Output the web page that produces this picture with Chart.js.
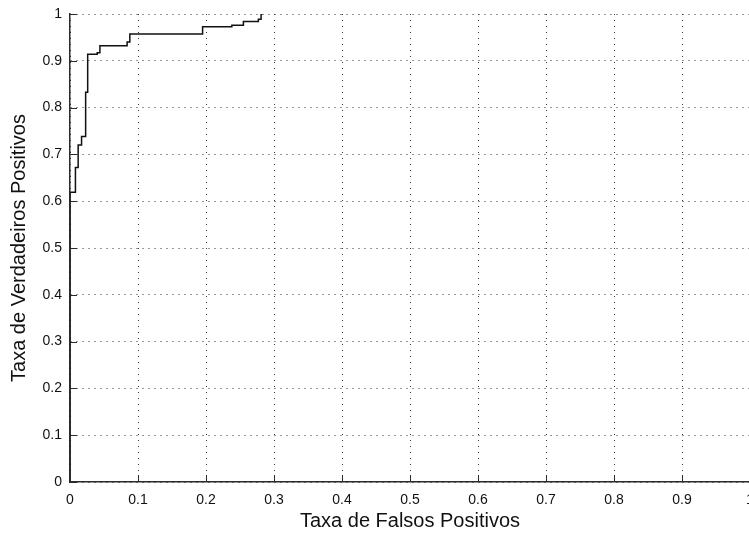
<!DOCTYPE html>
<html>
<head>
<meta charset="utf-8">
<script src="https://cdn.jsdelivr.net/npm/chart.js@4/dist/chart.umd.min.js"></script>
<style>
  html, body { margin: 0; padding: 0; background: #fff; overflow: hidden; }
  canvas { display: block; }
</style>
</head>
<body>
<canvas id="roc" width="764" height="536"></canvas>
<script>
// ROC curve corners (false positive rate, true positive rate)
const fprValues = [0, 0, 0.008, 0.008, 0.012, 0.012, 0.017, 0.017, 0.023, 0.023,
  0.026, 0.026, 0.040, 0.040, 0.044, 0.044, 0.084, 0.084, 0.088, 0.088,
  0.195, 0.195, 0.238, 0.238, 0.255, 0.255, 0.277, 0.277, 0.281, 0.281, 0.283];
const tprValues = [0, 0.619, 0.619, 0.672, 0.672, 0.720, 0.720, 0.738, 0.738, 0.833,
  0.833, 0.914, 0.914, 0.917, 0.917, 0.932, 0.932, 0.940, 0.940, 0.957,
  0.957, 0.973, 0.973, 0.976, 0.976, 0.984, 0.984, 0.989, 0.989, 1, 1];

const xTickValues = [0, 0.1, 0.2, 0.3, 0.4, 0.5, 0.6, 0.7, 0.8, 0.9, 1];
const yTickValues = [0, 0.1, 0.2, 0.3, 0.4, 0.5, 0.6, 0.7, 0.8, 0.9, 1];

const xTitle = 'Taxa de Falsos Positivos';
const yTitle = 'Taxa de Verdadeiros Positivos';

const axisColor = '#2a2a2a';
const gridColor = '#333';
const textColor = '#111';

// short tick marks pointing into the plot, like the old plotting tools do
const innerTicks = {
  id: 'innerTicks',
  afterDatasetsDraw(chart) {
    const { ctx, chartArea: a, scales: { x, y } } = chart;
    ctx.save();
    ctx.strokeStyle = axisColor;
    ctx.lineWidth = 1;
    ctx.beginPath();
    x.ticks.forEach(t => {
      const px = Math.round(x.getPixelForValue(t.value)) + 0.5;
      ctx.moveTo(px, a.bottom);
      ctx.lineTo(px, a.bottom - 7);
    });
    y.ticks.forEach(t => {
      const py = Math.round(y.getPixelForValue(t.value)) + 0.5;
      ctx.moveTo(a.left, py);
      ctx.lineTo(a.left + 7, py);
    });
    ctx.stroke();
    ctx.restore();
  }
};

const points = fprValues.map((v, i) => ({ x: v, y: tprValues[i] }));

new Chart(document.getElementById('roc'), {
  type: 'scatter',
  data: {
    datasets: [{
      data: points,
      showLine: true,
      borderColor: '#111',
      borderWidth: 1.5,
      pointRadius: 0,
      pointHoverRadius: 0,
      tension: 0
    }]
  },
  options: {
    responsive: false,
    animation: false,
    events: [],
    layout: { padding: { top: 14, right: 14, left: 0, bottom: 0 } },
    plugins: { legend: { display: false }, tooltip: { enabled: false } },
    scales: {
      x: {
        type: 'linear',
        min: 0,
        max: 1,
        // fixed axis box; the edge labels may hang over the plot sides
        afterFit: s => { s.height = 54; s.paddingLeft = 0; s.paddingRight = 0; },
        afterBuildTicks: s => { s.ticks = xTickValues.map(v => ({ value: v })); },
        grid: { color: gridColor, lineWidth: 1, drawTicks: false },
        border: { display: true, color: axisColor, width: 1.5, dash: [1, 5] },
        ticks: {
          padding: 10,
          maxRotation: 0,
          color: textColor,
          font: { family: 'Liberation Sans', size: 14 },
          callback: v => String(v)
        },
        title: {
          display: true,
          text: xTitle,
          color: textColor,
          font: { family: 'Liberation Sans', size: 20, lineHeight: 1.2 },
          padding: { top: 0, bottom: 3 }
        }
      },
      y: {
        type: 'linear',
        min: 0,
        max: 1,
        afterFit: s => { s.width = 70; s.paddingTop = 0; s.paddingBottom = 0; },
        afterBuildTicks: s => { s.ticks = yTickValues.map(v => ({ value: v })); },
        grid: { color: gridColor, lineWidth: 1, drawTicks: false },
        border: { display: true, color: axisColor, width: 1.5, dash: [1, 5] },
        ticks: {
          padding: 8,
          color: textColor,
          font: { family: 'Liberation Sans', size: 14 },
          callback: v => String(v)
        },
        title: {
          display: true,
          text: yTitle,
          color: textColor,
          font: { family: 'Liberation Sans', size: 20, lineHeight: 1.2 },
          padding: { top: 7, bottom: 0 }
        }
      }
    }
  },
  plugins: [innerTicks]
});
</script>
</body>
</html>
